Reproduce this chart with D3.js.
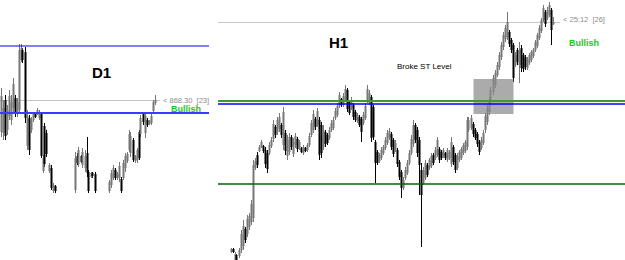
<!DOCTYPE html>
<html><head><meta charset="utf-8">
<script src="https://cdn.jsdelivr.net/npm/d3@7"></script>
<style>html,body{margin:0;padding:0;background:#fff;}svg{display:block;}</style>
</head><body><svg id="c" width="625" height="260"></svg>
<script>
// ---------- DATA ----------
// D1 candles [open, high, low, close]; null = no bar drawn
const d1Candles = [
 [836,880,831,872],[835,868,828,860],[868,873,828,832],[838,863,833,858],[852,878,848,872],
 [848,873,843,866],[860,890,855,884],[870,873,851,855],[855,870,851,866],[858,924,855,918],
 [908,924,906,920],[918,920,905,908],[916,921,845,850],[822,858,818,852],[850,853,813,818],
 [838,851,835,848],[848,856,846,854],[854,855,850,851],[854,860,853,858],[850,858,848,856],
 [854,856,810,812],[797,813,795,810],[842,845,801,804],[835,838,811,814],[797,805,795,803],
 [800,803,778,780],[777,785,775,783],[782,783,775,777],
 null,null,null,null,null,null,null,null,null,
 [778,816,775,810],[812,815,803,805],[804,821,801,818],[812,813,805,806],[803,820,800,816],
 [800,818,796,812],[815,831,791,795],[796,798,775,777],[791,796,790,795],[795,796,790,792],
 [794,796,775,777],
 null,null,null,null,null,null,
 [777,788,775,786],[783,798,780,795],[790,803,788,800],[798,800,788,790],[790,796,788,794],
 [790,806,786,802],[789,791,775,777],[790,808,788,805],[800,815,796,812],[807,816,805,814],
 [818,838,816,834],[815,836,811,832],[828,830,806,808],[807,813,805,812],[808,820,805,818],
 [836,838,808,810],[834,853,831,850],[854,856,843,846],[835,856,830,852],[848,850,841,843],
 [844,848,843,847],[845,855,843,852],[857,868,856,866],[865,873,863,868]
];
const d1Levels = [922, 855];          // resistance, ST level
const d1LastPrice = 868.30;
const d1Texts = ["D1", "< 868.30  [23]", "Bullish"];

// H1 candles [open, high, low, close]
const h1Candles = [
 [638,642,637,641],[641,642,637,638],[630,638,628,636],[635,636,624,626],[634,642,632,640],
 [640,660,637,656],[644,670,640,664],[661,663,647,650],[656,675,653,671],[663,677,660,674],
 [668,690,665,686],[672,730,668,725],[722,732,720,729],[735,738,722,725],[739,745,738,743],
 [743,750,742,748],[744,745,737,739],[740,743,722,726],[737,740,717,721],[737,748,735,745],
 [744,753,742,750],[751,770,748,766],[763,765,752,755],[758,773,755,770],[761,777,758,773],
 [765,767,752,755],[745,783,740,778],[757,760,735,739],[734,755,730,750],[738,757,735,753],
 [753,755,740,743],[736,752,733,748],[745,757,742,754],[751,753,738,741],[742,750,740,748],
 [742,743,737,738],[737,745,735,743],[742,743,738,739],[740,747,738,745],[745,757,743,754],
 [755,770,753,767],[760,780,757,776],[771,773,760,763],[765,782,763,779],[770,773,730,735],
 [765,768,732,737],[743,765,740,760],[758,760,743,746],[755,757,745,747],[752,763,750,760],
 [760,770,758,767],[762,773,760,770],[772,782,770,779],[775,787,773,784],[784,798,782,795],
 [791,792,783,785],[785,797,783,794],[790,805,788,801],[800,802,778,781],[788,790,775,777],
 [782,793,780,790],[785,787,770,773],[778,780,768,770],[769,777,767,775],[773,775,763,765],
 [771,773,748,758],[767,778,765,775],[772,787,770,784],[789,805,787,801],[787,800,785,797],
 [793,795,748,752],[783,785,750,753],[748,750,707,727],[738,740,725,727],[729,737,727,735],
 [732,743,730,740],[737,745,735,743],[742,753,740,750],[747,760,745,757],[752,762,750,759],
 [756,758,740,743],[750,752,733,736],[740,750,738,747],[740,742,723,726],[728,730,710,713],
 [718,720,692,702],[702,713,700,710],[712,723,710,720],[717,730,715,727],[727,740,725,737],
 [737,755,735,751],[746,770,743,765],[765,767,747,750],[760,763,733,737],[750,753,695,725],
 [720,727,643,695],[707,723,705,720],[712,730,710,727],[725,727,713,715],[722,732,720,730],
 [724,737,722,734],[735,737,725,727],[732,743,730,740],[735,753,733,750],[741,743,727,730],
 [738,740,730,732],[734,742,732,740],[737,738,730,732],[730,742,728,740],[732,740,730,738],
 [726,753,723,748],[743,745,725,728],[735,737,717,720],[722,737,720,734],[730,740,728,738],
 [732,743,730,741],[737,747,735,745],[739,750,737,748],[743,773,740,770],[760,773,758,770],
 [762,775,760,772],[766,768,753,756],[760,762,750,752],[756,758,743,746],[748,750,735,738],
 [742,753,740,750],[747,760,745,757],[760,777,757,774],[768,785,765,782],[778,793,775,790],
 [788,803,785,800],[798,815,795,812],[805,820,802,817],[815,828,813,825],[823,838,820,835],
 [833,848,830,845],[843,858,840,855],[851,865,848,862],[853,878,850,868],[858,860,843,846],
 [850,852,837,840],[845,847,808,812],[825,838,823,835],[840,842,825,828],[825,848,807,840],
 [842,845,818,822],[835,837,818,821],[833,835,820,823],[822,833,820,831],[827,837,825,835],
 [830,840,828,838],[834,842,832,840],[840,850,838,848],[844,857,842,855],[852,865,850,862],
 [859,872,857,870],[870,885,868,882],[878,880,863,866],[872,883,870,880],[875,888,873,885],
 [880,882,845,860],[866,873,865,868]
];
const h1Levels = [789, 786, 706];     // upper green, ST level (blue), lower green
const h1LastPrice = 868;
const h1Box = [121.5, 141.5, 776, 811]; // candle index from/to, price low/high
const h1Texts = ["H1", "Broke ST Level", "< 25:12  [26]", "Bullish"];

// ---------- DRAW ----------
const svg = d3.select("#c");
svg.append("rect").attr("width",625).attr("height",260).attr("fill","#fff");
const defs = svg.append("defs");
defs.append("clipPath").attr("id","clipD1").append("rect").attr("x",0).attr("y",0).attr("width",210).attr("height",260);
defs.append("clipPath").attr("id","clipH1").append("rect").attr("x",218).attr("y",0).attr("width",407).attr("height",260);

const d1X = d3.scaleLinear().domain([0, d1Candles.length-1]).range([0.5, 154.5]);
const d1Y = d3.scaleLinear().domain([708, 968]).range([260, 0]);
const h1X = d3.scaleLinear().domain([0, h1Candles.length-1]).range([230.5, 552.5]);
const h1Y = d3.scaleLinear().domain([630, 890]).range([260, 0]);

function drawCandles(g, data, x, y){
  const items = data.map((d,i)=>d?{i,o:d[0],h:d[1],l:d[2],c:d[3]}:null).filter(Boolean);
  const col = d => d.c >= d.o ? "#777" : "#000";
  g.selectAll("line.w").data(items).join("line").attr("class","w")
    .attr("x1",d=>Math.round(x(d.i))+0.5).attr("x2",d=>Math.round(x(d.i))+0.5)
    .attr("y1",d=>y(d.h)).attr("y2",d=>y(d.l))
    .attr("stroke",col).attr("stroke-width",1);
  g.selectAll("rect.b").data(items).join("rect").attr("class","b")
    .attr("x",d=>Math.round(x(d.i))-0.5).attr("width",2)
    .attr("y",d=>y(Math.max(d.o,d.c)))
    .attr("height",d=>Math.max(1, Math.abs(y(d.o)-y(d.c))))
    .attr("fill",col);
}

// D1 panel
const gD1 = svg.append("g").attr("clip-path","url(#clipD1)");
gD1.append("line").attr("x1",0).attr("x2",160).attr("y1",Math.round(d1Y(d1LastPrice))+0.5).attr("y2",Math.round(d1Y(d1LastPrice))+0.5)
  .attr("stroke","#c4c4c4").attr("stroke-width",1);
drawCandles(gD1.append("g"), d1Candles, d1X, d1Y);
gD1.append("line").attr("x1",0).attr("x2",209).attr("y1",d1Y(d1Levels[0])).attr("y2",d1Y(d1Levels[0]))
  .attr("stroke","#0000ff").attr("stroke-width",1.2);
gD1.append("line").attr("x1",0).attr("x2",209).attr("y1",d1Y(d1Levels[1])).attr("y2",d1Y(d1Levels[1]))
  .attr("stroke","#3c3cff").attr("stroke-width",2);
gD1.append("text").attr("x",92).attr("y",78).text(d1Texts[0])
  .attr("font-family","Liberation Sans, Arial, sans-serif").attr("font-weight","bold").attr("font-size",15).attr("fill","#000");
gD1.append("text").attr("x",163).attr("y",d1Y(d1LastPrice)+3).text(d1Texts[1])
  .attr("font-family","Liberation Sans, Arial, sans-serif").attr("font-size",7.5).attr("fill","#8c8c8c").attr("xml:space","preserve");
gD1.append("text").attr("x",171).attr("y",112).text(d1Texts[2])
  .attr("font-family","Liberation Sans, Arial, sans-serif").attr("font-weight","bold").attr("font-size",9).attr("fill","#1ec81e");

// H1 panel
const gH1 = svg.append("g").attr("clip-path","url(#clipH1)");
gH1.append("line").attr("x1",218).attr("x2",560).attr("y1",Math.round(h1Y(h1LastPrice))+0.5).attr("y2",Math.round(h1Y(h1LastPrice))+0.5)
  .attr("stroke","#c8c8c8").attr("stroke-width",1);
drawCandles(gH1.append("g"), h1Candles, h1X, h1Y);
gH1.append("rect")
  .attr("x",h1X(h1Box[0])).attr("width",h1X(h1Box[1])-h1X(h1Box[0]))
  .attr("y",h1Y(h1Box[3])).attr("height",h1Y(h1Box[2])-h1Y(h1Box[3]))
  .attr("fill","#8a8a8a").attr("fill-opacity",0.72);
gH1.append("line").attr("x1",218).attr("x2",625).attr("y1",h1Y(h1Levels[0])).attr("y2",h1Y(h1Levels[0]))
  .attr("stroke","#3a9a3a").attr("stroke-width",2);
gH1.append("line").attr("x1",218).attr("x2",625).attr("y1",h1Y(h1Levels[1])).attr("y2",h1Y(h1Levels[1]))
  .attr("stroke","#0000ff").attr("stroke-width",1.5);
gH1.append("line").attr("x1",218).attr("x2",625).attr("y1",h1Y(h1Levels[2])).attr("y2",h1Y(h1Levels[2]))
  .attr("stroke","#006400").attr("stroke-width",1.5);
gH1.append("text").attr("x",329).attr("y",48).text(h1Texts[0])
  .attr("font-family","Liberation Sans, Arial, sans-serif").attr("font-weight","bold").attr("font-size",15).attr("fill","#000");
gH1.append("text").attr("x",397).attr("y",69).text(h1Texts[1])
  .attr("font-family","Liberation Sans, Arial, sans-serif").attr("font-size",8).attr("fill","#000");
gH1.append("text").attr("x",563).attr("y",h1Y(h1LastPrice)+0).text(h1Texts[2])
  .attr("font-family","Liberation Sans, Arial, sans-serif").attr("font-size",7.5).attr("fill","#8c8c8c").attr("xml:space","preserve");
gH1.append("text").attr("x",569).attr("y",46).text(h1Texts[3])
  .attr("font-family","Liberation Sans, Arial, sans-serif").attr("font-weight","bold").attr("font-size",9).attr("fill","#1ec81e");
</script></body></html>
